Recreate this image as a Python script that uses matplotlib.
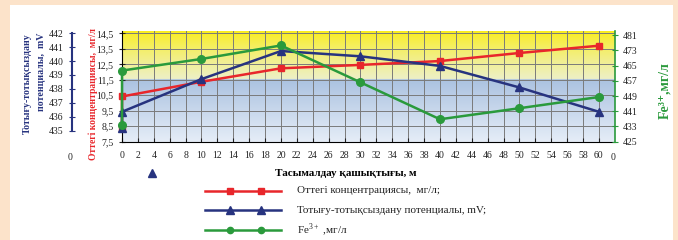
import numpy as np
import matplotlib
matplotlib.use("Agg")
import matplotlib.pyplot as plt
from matplotlib.lines import Line2D
from matplotlib.patches import Rectangle

plt.rcParams['font.family'] = ['Liberation Serif', 'DejaVu Serif']
plt.rcParams['mathtext.fontset'] = 'custom'
plt.rcParams['mathtext.rm'] = 'Liberation Serif'
plt.rcParams['mathtext.bf'] = 'Liberation Serif:bold'

# distance, m (first point of each series sits at 0 as well)
dist = [0, 0, 10, 20, 30, 40, 50, 60]
oxygen = [8.4, 10.42, 11.37, 12.24, 12.46, 12.71, 13.23, 13.7]
orp = [435.2, 436.35, 438.7, 440.72, 440.34, 439.65, 438.1, 436.35]
fe = [433.8, 462.4, 468.5, 475.6, 456.2, 436.8, 442.6, 448.5]

x_ticks = list(range(0, 61, 2))
ox_ticks = [7.5, 8.5, 9.5, 10.5, 11.5, 12.5, 13.5, 14.5]
orp_ticks = [435, 436, 437, 438, 439, 440, 441, 442]
fe_ticks = [425, 433, 441, 449, 457, 465, 473, 481]

RED = '#e8262b'
BLUE = '#27337f'
GREEN = '#2a9a3c'
W, H = 678, 240


def px(x, y):
    return x / W, 1 - y / H


fig = plt.figure(figsize=(W / 100, H / 100), dpi=100, facecolor='#fce3ca')
fig.patches.append(Rectangle(px(10, 240), 663 / W, 235 / H, transform=fig.transFigure,
                             facecolor='white', edgecolor='none', zorder=-5))

l, b = px(122, 141.7)
ax = fig.add_axes([l, b, (614.8 - 122) / W, (141.7 - 31) / H])
ax.set_facecolor('none')

# background: yellow band on top, blue band below
n = 300
grad = np.zeros((n, 2, 3))
split = 0.434
for i in range(n):
    t = i / (n - 1)
    if t < split:
        f = (t / split) ** 0.8
        c = np.array([0.98, 0.93, 0.1]) * (1 - f) + np.array([0.93, 0.94, 0.78]) * f
    else:
        f = (t - split) / (1 - split)
        c = np.array([0.67, 0.76, 0.88]) * (1 - f) + np.array([0.90, 0.93, 0.97]) * f
    grad[i, :, :] = c
ax.imshow(grad, extent=[0, 1, 0, 1], transform=ax.transAxes, aspect='auto', zorder=0)

ax.set_xlim(0, 62)
ax.set_ylim(7.5, 14.65)
ax.set_xticks(x_ticks)
ax.set_yticks(ox_ticks)
ax.set_yticklabels([f"{v:.1f}".replace('.', ',') for v in ox_ticks])
ax.set_axisbelow(True)
ax.grid(True, color='#7a7a7a', lw=0.7)
ax.tick_params(axis='x', direction='in', length=3, labelsize=7, colors='#222222', pad=7)
ax.tick_params(axis='y', direction='inout', length=5, labelsize=7, colors='#222222')
for s in ['top', 'right']:
    ax.spines[s].set_visible(False)
ax.spines['left'].set_color('black')
ax.spines['bottom'].set_color('black')

# ORP axis on the far left
ax_b = ax.twinx()
ax_b.set_ylim(434.2, 442.16)
ax_b.spines['left'].set_visible(True)
ax_b.spines['left'].set_position(('axes', (72 - 122) / 492.8))
ax_b.spines['left'].set_bounds(435, 442)
ax_b.spines['left'].set_color(BLUE)
ax_b.spines['left'].set_linewidth(1.5)
for s in ['top', 'right', 'bottom']:
    ax_b.spines[s].set_visible(False)
ax_b.yaxis.set_ticks_position('left')
ax_b.yaxis.set_label_position('left')
ax_b.set_yticks(orp_ticks)
ax_b.tick_params(axis='y', direction='inout', length=5, labelsize=7, colors=BLUE,
                 labelcolor='#222222')

# Fe axis on the right
ax_g = ax.twinx()
ax_g.set_ylim(425, 483.2)
ax_g.set_yticks(fe_ticks)
for s in ['top', 'left', 'bottom']:
    ax_g.spines[s].set_visible(False)
ax_g.spines['right'].set_color(GREEN)
ax_g.spines['right'].set_linewidth(1.2)
ax_g.tick_params(axis='y', direction='inout', length=5, labelsize=7, colors=GREEN,
                 labelcolor='#222222')

ax.plot(dist, oxygen, color=RED, lw=1.8, marker='s', ms=5, zorder=3, clip_on=False)
ax_b.plot(dist, orp, color=BLUE, lw=1.8, marker='^', ms=6, clip_on=False)
ax_g.plot(dist, fe, color=GREEN, lw=1.8, marker='o', ms=5.5, clip_on=False)

# stray "0" labels of the extra axes
fig.text(*px(70, 157), '0', fontsize=7, color='#222222', ha='center', va='center')
fig.text(*px(613, 157), '0', fontsize=7, color='#222222', ha='center', va='center')

# axis titles
fig.text(*px(27, 33), 'Тотығу-тотықсыздану', rotation=90, fontsize=7.1, fontweight='bold',
         color=BLUE, ha='center', va='top')
fig.text(*px(41, 33), 'потенциалы,  mV', rotation=90, fontsize=7.1, fontweight='bold',
         color=BLUE, ha='center', va='top')
fig.text(*px(93, 93.5), 'Оттегі концентрациясы,  мг/л', rotation=90, fontsize=6.9,
         fontweight='bold', color=RED, ha='center', va='center')
fig.text(*px(665, 91), 'Fe³⁺,мг/л', rotation=90, fontsize=10,
         fontweight='bold', color=GREEN, ha='center', va='center')
fig.text(*px(346, 173.5), 'Тасымалдау қашықтығы, м', fontsize=8, fontweight='bold',
         color='black', ha='center', va='center')

# stray triangle below the axis
fig.add_artist(Line2D([152 / W], [1 - 173 / H], marker='^', ms=6, color=BLUE, lw=0))

# legend
labels = ['Оттегі концентрациясы,  мг/л;', 'Тотығу-тотықсыздану потенциалы, mV;',
          r'Fe$^{3+}$ ,мг/л']
styles = [(RED, 's', 5), (BLUE, '^', 6), (GREEN, 'o', 4.5)]
for k, (lab, (c, m, ms)) in enumerate(zip(labels, styles)):
    y = 190.7 + k * 19.7
    fig.add_artist(Line2D([205 / W, 281 / W], [1 - y / H] * 2, color=c, lw=1.8))
    fig.add_artist(Line2D([230 / W, 261 / W], [1 - y / H] * 2, color=c, lw=0,
                          marker=m, ms=ms))
    fig.text(297 / W, 1 - y / H, lab, fontsize=8, color='#222222', ha='left', va='center')

fig.savefig('out.png', dpi=100, facecolor=fig.get_facecolor())
